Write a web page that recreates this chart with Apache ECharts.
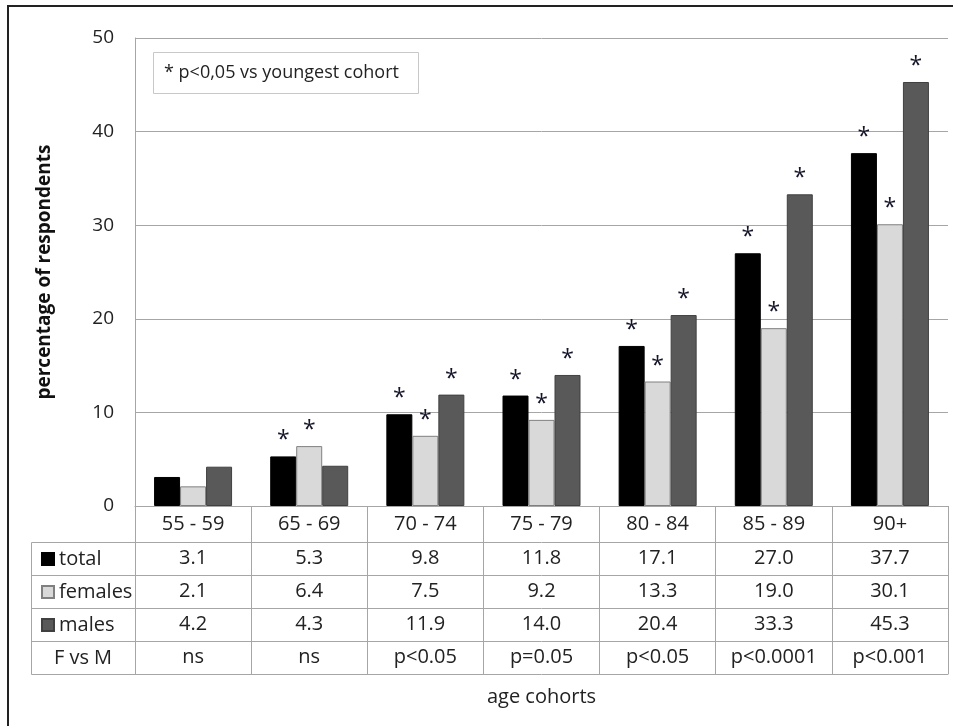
<!DOCTYPE html>
<html>
<head>
<meta charset="utf-8">
<script src="https://cdn.jsdelivr.net/npm/echarts@6/dist/echarts.min.js"></script>
<style>
  html, body { margin: 0; padding: 0; background: #fff; }
  #chart { width: 953px; height: 726px; }
</style>
</head>
<body>
<div id="chart"></div>
<script>
// Age cohorts and the share of respondents (%) per group
const cohorts = ['55 - 59', '65 - 69', '70 - 74', '75 - 79', '80 - 84', '85 - 89', '90+'];
const total   = [3.1, 5.3, 9.8, 11.8, 17.1, 27.0, 37.7];
const females = [2.1, 6.4, 7.5, 9.2, 13.3, 19.0, 30.1];
const males   = [4.2, 4.3, 11.9, 14.0, 20.4, 33.3, 45.3];
// Female vs male comparison per cohort
const fVsM = ['ns', 'ns', 'p<0.05', 'p=0.05', 'p<0.05', 'p<0.0001', 'p<0.001'];
// Significance vs youngest cohort (p<0,05) -> asterisk above the bar
const sigTotal   = [0, 1, 1, 1, 1, 1, 1];
const sigFemales = [0, 1, 1, 1, 1, 1, 1];
const sigMales   = [0, 0, 1, 1, 1, 1, 1];
const yTicks = { min: 0, max: 50, interval: 10 };

const FONT = '"Open Sans", sans-serif';
const TXT = '#222';
const GRID = '#a6a6a6';
const FS = 20;

const chart = echarts.init(document.getElementById('chart'));

function starLabel(flags) {
  return {
    show: true,
    position: 'top',
    distance: 4,
    fontFamily: FONT,
    fontSize: 23,
    color: '#15152a',
    formatter: p => flags[p.dataIndex] ? '*' : ''
  };
}

// One table row under the plot, built as an extra category axis
function rowAxis(offset, values) {
  return {
    type: 'category',
    gridIndex: 0,
    position: 'bottom',
    offset: offset,
    data: cohorts,
    axisLine: { show: true, lineStyle: { color: GRID, width: 1 } },
    axisTick: { show: true, interval: 0, length: 33, lineStyle: { color: GRID } },
    axisLabel: {
      show: true, interval: 0, margin: 6,
      fontFamily: FONT, fontSize: FS, color: TXT,
      formatter: (v, i) => values[i]
    },
    splitLine: { show: false }
  };
}

const fmt1 = a => a.map(v => v.toFixed(1));

const option = {
  animation: false,
  backgroundColor: '#fff',
  grid: { left: 135, right: 5, top: 38, bottom: 220, containLabel: false },
  legend: {
    orient: 'vertical',
    left: 36,
    top: 544,
    icon: 'rect',
    itemWidth: 12,
    itemHeight: 12,
    itemGap: 13,
    selectedMode: false,
    textStyle: { fontFamily: FONT, fontSize: FS, color: TXT, lineHeight: 20, padding: [0, 0, 0, 0] },
    data: ['total', 'females', 'males']
  },
  xAxis: [
    {
      type: 'category',
      gridIndex: 0,
      position: 'bottom',
      data: cohorts,
      axisLine: { show: true, lineStyle: { color: GRID, width: 1 } },
      axisTick: { show: true, interval: 0, length: 36, lineStyle: { color: GRID } },
      axisLabel: { interval: 0, margin: 8, fontFamily: FONT, fontSize: FS, color: TXT },
      splitLine: { show: false }
    },
    rowAxis(36, fmt1(total)),
    rowAxis(69, fmt1(females)),
    rowAxis(102, fmt1(males)),
    rowAxis(135, fVsM),
    {
      type: 'category',
      gridIndex: 0,
      position: 'bottom',
      offset: 168,
      data: cohorts,
      axisLine: { show: true, lineStyle: { color: GRID, width: 1 } },
      axisTick: { show: false },
      axisLabel: { show: false },
      name: 'age cohorts',
      nameLocation: 'middle',
      nameGap: 13,
      nameTextStyle: { fontFamily: FONT, fontSize: FS, color: TXT, verticalAlign: 'top' }
    }
  ],
  yAxis: {
    type: 'value',
    min: yTicks.min,
    max: yTicks.max,
    interval: yTicks.interval,
    axisLine: { show: true, lineStyle: { color: GRID } },
    axisTick: { show: false },
    axisLabel: { margin: 21, fontFamily: FONT, fontSize: 19, color: TXT },
    splitLine: { show: true, lineStyle: { color: GRID, width: 1 } },
    name: 'percentage of respondents',
    nameLocation: 'middle',
    nameRotate: 90,
    nameGap: 81,
    nameTextStyle: { fontFamily: FONT, fontSize: 19, fontWeight: 'bold', color: '#111' }
  },
  series: [
    {
      name: 'total', type: 'bar', xAxisIndex: 0, data: total,
      barWidth: 26, barGap: '0%',
      itemStyle: { color: '#000000', borderColor: '#000000', borderWidth: 1 },
      label: starLabel(sigTotal)
    },
    {
      name: 'females', type: 'bar', xAxisIndex: 0, data: females,
      barWidth: 26, barGap: '0%',
      itemStyle: { color: '#d9d9d9', borderColor: '#808080', borderWidth: 1 },
      label: starLabel(sigFemales)
    },
    {
      name: 'males', type: 'bar', xAxisIndex: 0, data: males,
      barWidth: 26, barGap: '0%',
      itemStyle: { color: '#595959', borderColor: '#404040', borderWidth: 1 },
      label: starLabel(sigMales)
    }
  ],
  graphic: [
    // page frame
    {
      type: 'polyline', silent: true,
      shape: { points: [[8, 726], [8, 6], [953, 6]] },
      style: { stroke: '#222', lineWidth: 2, fill: null }
    },
    // note box
    {
      type: 'rect', silent: true,
      shape: { x: 153.5, y: 52.5, width: 265, height: 41 },
      style: { fill: '#fff', stroke: '#c8c8c8', lineWidth: 1 }
    },
    {
      type: 'text', silent: true, x: 164, y: 73,
      style: { text: '* p<0,05 vs youngest cohort', font: '18px ' + FONT, fill: TXT, verticalAlign: 'middle' }
    },
    // row-header column of the data table
    {
      type: 'group', silent: true,
      children: [
        { type: 'line', shape: { x1: 31.5, y1: 542.5, x2: 135, y2: 542.5 }, style: { stroke: GRID } },
        { type: 'line', shape: { x1: 31.5, y1: 575.5, x2: 135, y2: 575.5 }, style: { stroke: GRID } },
        { type: 'line', shape: { x1: 31.5, y1: 608.5, x2: 135, y2: 608.5 }, style: { stroke: GRID } },
        { type: 'line', shape: { x1: 31.5, y1: 641.5, x2: 135, y2: 641.5 }, style: { stroke: GRID } },
        { type: 'line', shape: { x1: 31.5, y1: 674.5, x2: 135, y2: 674.5 }, style: { stroke: GRID } },
        { type: 'line', shape: { x1: 31.5, y1: 542.5, x2: 31.5, y2: 674.5 }, style: { stroke: GRID } },
        {
          type: 'text', x: 83, y: 658,
          style: { text: 'F vs M', font: FS + 'px ' + FONT, fill: TXT, align: 'center', verticalAlign: 'middle' }
        }
      ]
    }
  ]
};

chart.setOption(option);
</script>
</body>
</html>
